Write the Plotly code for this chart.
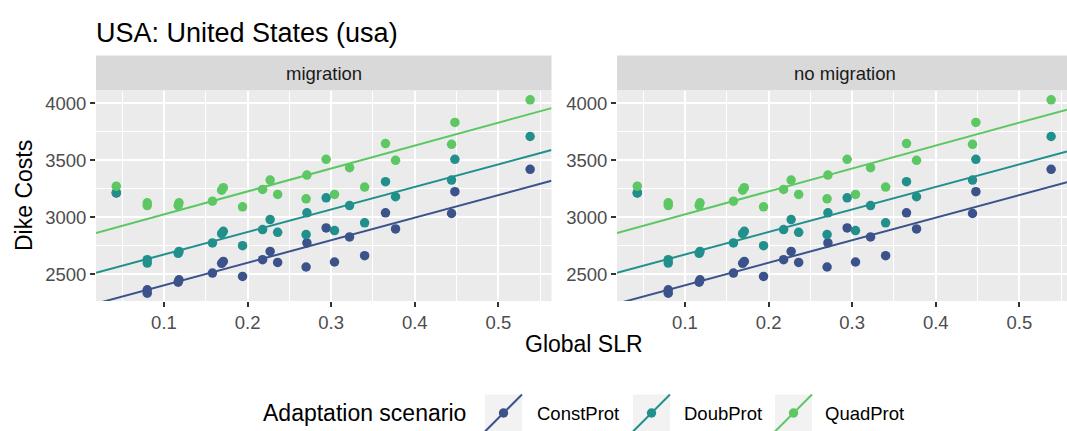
import plotly.graph_objects as go

W, H = 1067, 431

# ---- data -------------------------------------------------------------
facets = ["migration", "no migration"]
scenarios = ["ConstProt", "DoubProt", "QuadProt"]
colors = ["#3B528B", "#21908C", "#5DC863"]

global_slr = [0.043, 0.080, 0.080, 0.117, 0.118, 0.158, 0.169, 0.171, 0.194,
              0.218, 0.227, 0.236, 0.270, 0.271, 0.294, 0.304, 0.322, 0.340,
              0.365, 0.377, 0.444, 0.448, 0.538]
cost_const = [3212, 2334, 2363, 2430, 2451, 2510, 2595, 2612, 2480,
              2627, 2700, 2603, 2563, 2774, 2906, 2607, 2827, 2662,
              3038, 2897, 3032, 3223, 3419]
cost_doub = [3214, 2598, 2627, 2683, 2700, 2774, 2855, 2876, 2750,
             2891, 2979, 2867, 2847, 3038, 3170, 2882, 3102, 2950,
             3311, 3179, 3325, 3507, 3707]
cost_quad = [3272, 3102, 3126, 3102, 3126, 3140, 3237, 3258, 3091,
             3243, 3325, 3199, 3161, 3369, 3507, 3199, 3434, 3264,
             3645, 3498, 3639, 3830, 4029]
costs = [cost_const, cost_doub, cost_quad]

# linear trend per scenario: cost = intercept + slope * SLR
fit_intercept = [2205, 2475, 2824]
fit_slope = [1977, 1976, 2009]

x_ticks = [0.1, 0.2, 0.3, 0.4, 0.5]
y_ticks = [2500, 3000, 3500, 4000]

# ---- layout helpers (pixel -> paper) ----------------------------------
def px(x):
    return x / W


def py(y):
    return 1 - y / H


FONT = "Liberation Sans, Arial, sans-serif"
panel_px = [(96, 551.5), (617, 1067)]
panel_top, panel_bot = 91, 301
x_lo = 0.0187
x_per_px = 0.1 / 83.6
x_ranges = [[x_lo, x_lo + (r - l) * x_per_px] for l, r in panel_px]
y_range = [2265, 4106]

fig = go.Figure()

for p in range(2):
    xa = "x" if p == 0 else "x2"
    ya = "y" if p == 0 else "y2"
    x0, x1 = x_ranges[p]
    for s in range(3):
        fig.add_trace(go.Scatter(
            x=[x0, x1],
            y=[fit_intercept[s] + fit_slope[s] * x0, fit_intercept[s] + fit_slope[s] * x1],
            mode="lines", line=dict(color=colors[s], width=2),
            xaxis=xa, yaxis=ya, showlegend=False, hoverinfo="skip"))
    for s in range(3):
        fig.add_trace(go.Scatter(
            x=global_slr, y=costs[s], mode="markers", name=scenarios[s],
            marker=dict(color=colors[s], size=9.5, line=dict(width=0)),
            xaxis=xa, yaxis=ya, showlegend=False, cliponaxis=False))

axis_common = dict(
    showline=False, zeroline=False, ticks="outside", ticklen=5, tickwidth=1.5,
    tickcolor="#333333", showgrid=True, gridcolor="white", gridwidth=2.2,
    tickfont=dict(family=FONT, size=18.5, color="#4d4d4d"), automargin=False,
)

layout = dict(
    width=W, height=H, margin=dict(l=0, r=0, t=0, b=0, pad=0),
    paper_bgcolor="white", plot_bgcolor="#ebebeb", showlegend=False,
    font=dict(family=FONT),
)
for p in range(2):
    sfx = "" if p == 0 else "2"
    l, r = panel_px[p]
    layout["xaxis" + sfx] = dict(
        axis_common, domain=[px(l), min(1.0, px(r))], range=x_ranges[p],
        tickvals=x_ticks, ticktext=[str(t) for t in x_ticks],
        anchor="y" + sfx,
        minor=dict(dtick=0.05, tick0=0, showgrid=True, gridcolor="white", gridwidth=1.1),
    )
    layout["yaxis" + sfx] = dict(
        axis_common, domain=[py(panel_bot), py(panel_top)], range=y_range,
        tickvals=y_ticks, ticktext=[str(t) for t in y_ticks],
        anchor="x" + sfx,
        minor=dict(dtick=250, tick0=2250, showgrid=True, gridcolor="white", gridwidth=1.1),
    )
fig.update_layout(**layout)

shapes = []
annotations = []

# facet strips
for p in range(2):
    l, r = panel_px[p]
    shapes.append(dict(type="rect", xref="paper", yref="paper",
                       x0=px(l), x1=px(r), y0=py(90.5), y1=py(55.5),
                       fillcolor="#d9d9d9", line=dict(width=0), layer="below"))
    annotations.append(dict(text=facets[p], xref="paper", yref="paper",
                            x=px((l + (r if p == 0 else 1073)) / 2), y=py(73),
                            xanchor="center", yanchor="middle", showarrow=False,
                            font=dict(family=FONT, size=18.5, color="#1a1a1a")))

# title and axis titles
annotations.append(dict(text="USA: United States (usa)", xref="paper", yref="paper",
                        x=px(94), y=py(33), xanchor="left", yanchor="middle",
                        showarrow=False, font=dict(family=FONT, size=27, color="black")))
annotations.append(dict(text="Dike Costs", xref="paper", yref="paper",
                        x=px(24), y=py(196), textangle=-90, xanchor="center",
                        yanchor="middle", showarrow=False,
                        font=dict(family=FONT, size=23, color="black")))
annotations.append(dict(text="Global SLR", xref="paper", yref="paper",
                        x=px(584), y=py(344), xanchor="center", yanchor="middle",
                        showarrow=False, font=dict(family=FONT, size=23, color="black")))

# legend
leg_y = 413
annotations.append(dict(text="Adaptation scenario", xref="paper", yref="paper",
                        x=px(261), y=py(leg_y), xanchor="left", yanchor="middle",
                        showarrow=False, font=dict(family=FONT, size=23, color="black")))
key_x = [485, 633, 775]
label_x = [535, 682, 823]
key_w = 37
for s in range(3):
    kx = key_x[s]
    shapes.append(dict(type="rect", xref="paper", yref="paper",
                       x0=px(kx), x1=px(kx + key_w), y0=py(leg_y + key_w / 2),
                       y1=py(leg_y - key_w / 2), fillcolor="#f2f2f2", line=dict(width=0)))
    shapes.append(dict(type="line", xref="paper", yref="paper",
                       x0=px(kx), x1=px(kx + key_w), y0=py(leg_y + key_w / 2),
                       y1=py(leg_y - key_w / 2), line=dict(color=colors[s], width=2)))
    cx = kx + key_w / 2
    shapes.append(dict(type="circle", xref="paper", yref="paper",
                       x0=px(cx - 4.7), x1=px(cx + 4.7), y0=py(leg_y + 4.7),
                       y1=py(leg_y - 4.7), fillcolor=colors[s], line=dict(width=0)))
    annotations.append(dict(text=scenarios[s], xref="paper", yref="paper",
                            x=px(label_x[s]), y=py(leg_y), xanchor="left",
                            yanchor="middle", showarrow=False,
                            font=dict(family=FONT, size=18.5, color="black")))

fig.update_layout(shapes=shapes, annotations=annotations)
fig.write_html("out.html")
